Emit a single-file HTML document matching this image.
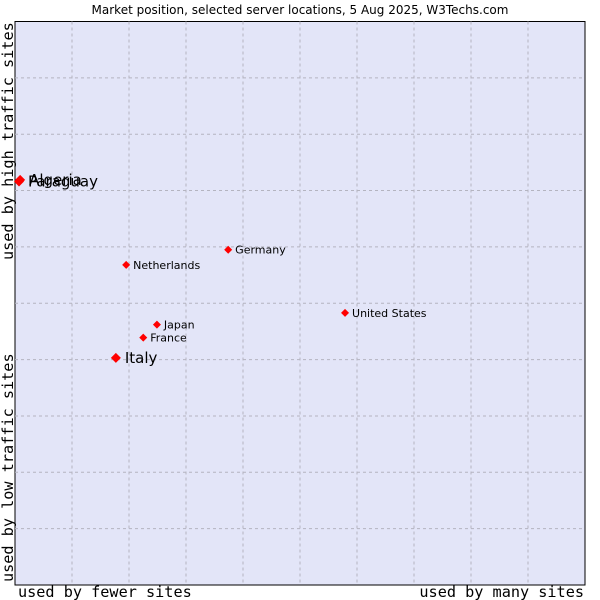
<!DOCTYPE html>
<html><head><meta charset="utf-8"><style>
body{margin:0;background:#fff}
svg{display:block;font-family:"DejaVu Sans","Liberation Sans",sans-serif}
</style></head><body>
<svg id="chart" width="600" height="600">
<text x="300" y="14" text-anchor="middle" font-size="12">Market position, selected server locations, 5 Aug 2025, W3Techs.com</text>
<rect x="15" y="21.5" width="570" height="563.5" fill="#e3e5f8" stroke="#000" stroke-width="1"/>
<g id="grid"></g>
<text x="18" y="597" font-family="'DejaVu Sans Mono','Liberation Mono',monospace" font-size="15.2">used by fewer sites</text>
<text x="584" y="597" text-anchor="end" font-family="'DejaVu Sans Mono','Liberation Mono',monospace" font-size="15.2">used by many sites</text>
<text transform="translate(13,582) rotate(-90)" font-family="'DejaVu Sans Mono','Liberation Mono',monospace" font-size="15.2">used by low traffic sites</text>
<text transform="translate(13,260) rotate(-90)" font-family="'DejaVu Sans Mono','Liberation Mono',monospace" font-size="15.2">used by high traffic sites</text>
<g id="points"></g>
</svg>
<script>
const countries=["Algeria","Paraguay","Germany","Netherlands","United States","Japan","France","Italy"];
const xValues=[0.09,0.07,3.74,1.95,5.79,2.49,2.25,1.77];
const yValues=[7.19,7.16,5.95,5.68,4.83,4.62,4.39,4.03];
const highlighted=[true,true,false,false,false,false,false,true];
const NS="http://www.w3.org/2000/svg";
const x0=15,x1=585,y0=585,y1=21.5;
function xs(v){return x0+v/10*(x1-x0);}
function ys(v){return y0-v/10*(y0-y1);}
const grid=document.getElementById('grid');
for(let i=1;i<10;i++){
  const v=document.createElementNS(NS,'line');
  v.setAttribute('x1',xs(i));v.setAttribute('x2',xs(i));v.setAttribute('y1',y1);v.setAttribute('y2',y0);
  v.setAttribute('stroke','#b4b4c0');v.setAttribute('stroke-dasharray','3,3');
  
  
  grid.appendChild(v);
  const h=document.createElementNS(NS,'line');
  h.setAttribute('y1',ys(i));h.setAttribute('y2',ys(i));h.setAttribute('x1',x0);h.setAttribute('x2',x1);
  h.setAttribute('stroke','#b4b4c0');h.setAttribute('stroke-dasharray','3,3');
  
  
  grid.appendChild(h);
}
const pts=document.getElementById('points');
countries.forEach((c,i)=>{
  const px=xs(xValues[i]),py=ys(yValues[i]);
  const big=highlighted[i];
  const r=big?5:4;
  const d=document.createElementNS(NS,'path');
  d.setAttribute('d',`M${px-r},${py}L${px},${py-r}L${px+r},${py}L${px},${py+r}Z`);
  d.setAttribute('fill','#f00');
  
  
  pts.appendChild(d);
  const t=document.createElementNS(NS,'text');
  t.setAttribute('x',px+(big?9:7));
  t.setAttribute('y',py+(big?5:4));
  t.setAttribute('font-size',big?15:11);
  t.textContent=c;
  
  
  pts.appendChild(t);
});
</script>
</body></html>
